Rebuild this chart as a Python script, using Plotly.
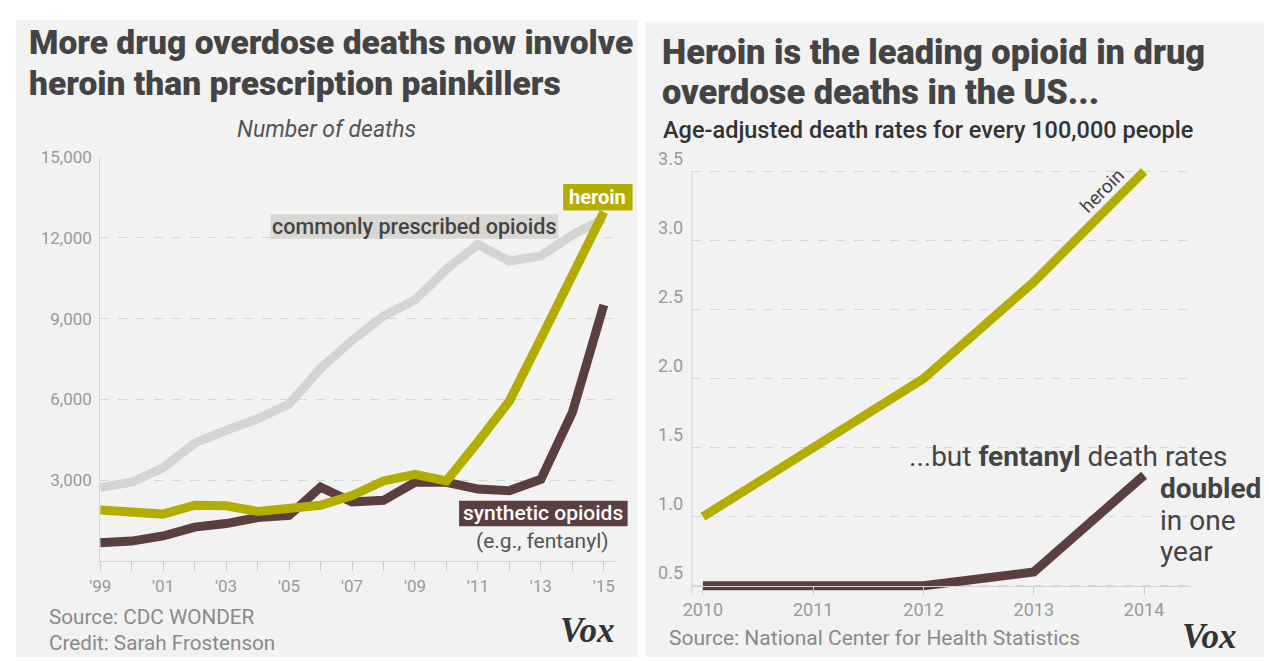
import plotly.graph_objects as go

W, H = 1269, 661

# ---------------- data ----------------
years_left = list(range(1999, 2016))
prescribed = [2740, 2930, 3470, 4380, 4860, 5280, 5830, 7150, 8190, 9090, 9690,
              10830, 11740, 11135, 11320, 12100, 12700]
heroin_left = [1900, 1800, 1750, 2080, 2060, 1850, 1990, 2080, 2440, 2980, 3220,
               2980, 4430, 5940, 8260, 10570, 12950]
synthetic = [690, 750, 940, 1270, 1400, 1620, 1700, 2750, 2200, 2260, 2930,
             2930, 2680, 2620, 3040, 5520, 9500]
left_ytick_vals = [3000, 6000, 9000, 12000, 15000]
left_ytick_text = ["3,000", "6,000", "9,000", "12,000", "15,000"]
left_xtick_text = ["'99", "", "'01", "", "'03", "", "'05", "", "'07", "", "'09", "",
                   "'11", "", "'13", "", "'15"]

years_right = [2010, 2011, 2012, 2013, 2014]
heroin_rate = [1.0, 1.5, 2.0, 2.7, 3.5]
fentanyl_rate = [0.5, 0.5, 0.5, 0.6, 1.3]
right_ytick_vals = [0.5, 1.0, 1.5, 2.0, 2.5, 3.0, 3.5]
right_ytick_text = ["0.5", "1.0", "1.5", "2.0", "2.5", "3.0", "3.5"]
right_xtick_text = ["2010", "2011", "2012", "2013", "2014"]

# ---------------- styles ----------------
C_HEROIN = "#b3ad00"
C_SYN = "#5b3f40"
C_PRESC = "#d5d4d0"
C_TEXT = "#444444"
C_TICK = "#9a9a9a"
C_SRC = "#8a8a8a"
C_GRID = "#d6d6d6"
C_PANEL = "#f2f2f2"
FONT = "Roboto"


def px(x):
    return x / W


def py(y):
    return 1 - y / H


fig = go.Figure()

fig.add_trace(go.Scatter(x=years_left, y=prescribed, mode="lines",
                         line=dict(color=C_PRESC, width=9), xaxis="x", yaxis="y",
                         hoverinfo="skip"))
fig.add_trace(go.Scatter(x=years_left, y=synthetic, mode="lines",
                         line=dict(color=C_SYN, width=9), xaxis="x", yaxis="y",
                         hoverinfo="skip"))
fig.add_trace(go.Scatter(x=years_left, y=heroin_left, mode="lines",
                         line=dict(color=C_HEROIN, width=9), xaxis="x", yaxis="y",
                         hoverinfo="skip"))

fig.add_trace(go.Scatter(x=years_right, y=fentanyl_rate, mode="lines",
                         line=dict(color=C_SYN, width=9), xaxis="x2", yaxis="y2",
                         hoverinfo="skip"))
fig.add_trace(go.Scatter(x=years_right, y=heroin_rate, mode="lines",
                         line=dict(color=C_HEROIN, width=9), xaxis="x2", yaxis="y2",
                         hoverinfo="skip"))

# left axes geometry
lx0, lx1 = 90, 610
ppy = 31.75
l_range_x = [1999, 1999 + (lx1 - lx0) / ppy]
# right axes geometry
rx0, rx1 = 687, 1190
r_ppy = 111.25
r_x_start = 2010 - (698 - rx0) / r_ppy
r_range_x = [r_x_start, 2014 + (rx1 - 1143) / r_ppy]
r_unit = (584 - 160) / 3.0
r_bot_px = 592.5
r_top_px = 151.5
r_range_y = [0.5 - (r_bot_px - 584) / r_unit, 3.5 + (160 - r_top_px) / r_unit]

tickfont = dict(family=FONT, size=17, color=C_TICK)

fig.update_layout(
    width=W, height=H,
    margin=dict(l=0, r=0, t=0, b=0),
    paper_bgcolor="white",
    plot_bgcolor="rgba(0,0,0,0)",
    showlegend=False,
    xaxis=dict(domain=[px(lx0), px(lx1)], range=l_range_x, anchor="y",
               tickvals=years_left, ticktext=left_xtick_text,
               ticks="outside", ticklen=9, tickcolor="#cccccc", tickwidth=1,
               showline=True, linecolor="#d4d4d4", linewidth=1,
               showgrid=False, zeroline=False, tickfont=tickfont,
               fixedrange=True),
    yaxis=dict(domain=[py(559), py(145)], range=[0, 15000], anchor="x",
               tickvals=left_ytick_vals, ticktext=left_ytick_text,
               ticks="", showline=True, linecolor="#d4d4d4", linewidth=1,
               showgrid=True, gridcolor=C_GRID, griddash="dash", gridwidth=1,
               zeroline=False, tickfont=tickfont, ticklabelstandoff=4,
               fixedrange=True),
    xaxis2=dict(domain=[px(rx0), px(rx1)], range=r_range_x, anchor="free",
                position=py(584),
                tickvals=years_right, ticktext=right_xtick_text,
                ticks="outside", ticklen=8, tickcolor="#cccccc",
                showline=True, linecolor="#d4d4d4", linewidth=1,
                showgrid=False, zeroline=False,
                tickfont=dict(family=FONT, size=18, color=C_TICK),
                fixedrange=True),
    yaxis2=dict(domain=[py(r_bot_px), py(r_top_px)], range=r_range_y, anchor="x2",
                tickvals=right_ytick_vals, ticktext=right_ytick_text,
                ticks="", showline=False,
                showgrid=True, gridcolor=C_GRID, griddash="dash", gridwidth=1,
                zeroline=False, tickfont=dict(family=FONT, size=18, color=C_TICK),
                ticklabelposition="outside top",
                ticklabelstandoff=8, fixedrange=True),
)

shapes = []
# panels
shapes.append(dict(type="rect", xref="paper", yref="paper", x0=px(5), x1=px(632),
                   y0=py(657), y1=py(5), fillcolor=C_PANEL, line=dict(width=0),
                   layer="below"))
shapes.append(dict(type="rect", xref="paper", yref="paper", x0=px(640), x1=px(1264),
                   y0=py(657), y1=py(7), fillcolor=C_PANEL, line=dict(width=0),
                   layer="below"))
# right vertical axis line
shapes.append(dict(type="line", xref="paper", yref="paper", x0=px(rx0), x1=px(rx0),
                   y0=py(593), y1=py(160), line=dict(color="#d4d4d4", width=1),
                   layer="below"))
# label boxes
shapes.append(dict(type="rect", xref="paper", yref="paper", x0=px(557), x1=px(627),
                   y0=py(200), y1=py(173), fillcolor=C_HEROIN, line=dict(width=0)))
shapes.append(dict(type="rect", xref="paper", yref="paper", x0=px(262), x1=px(552),
                   y0=py(229), y1=py(204), fillcolor="#d8d7d3", line=dict(width=0)))
shapes.append(dict(type="rect", xref="paper", yref="paper", x0=px(452), x1=px(622),
                   y0=py(523), y1=py(497), fillcolor=C_SYN, line=dict(width=0)))
fig.update_layout(shapes=shapes)


def ann(text, x, y, size, color=C_TEXT, xanchor="left", weight="normal",
        style="normal", family=FONT, angle=0):
    fig.add_annotation(text=text, x=px(x), y=py(y), xref="paper", yref="paper",
                       xanchor=xanchor, yanchor="middle", showarrow=False,
                       textangle=angle,
                       font=dict(family=family, size=size, color=color,
                                 weight=weight, style=style))


# left panel texts
ann("More drug overdose deaths now involve", 16, 28, 33.6, weight=900)
ann("heroin than prescription painkillers", 16, 70, 33.6, weight=900)
ann("Number of deaths", 318, 117, 23, color="#555555", xanchor="center", style="italic")
ann("heroin", 592, 186.5, 20, color="white", xanchor="center", weight="bold")
ann("commonly prescribed opioids", 407, 216.5, 21.5, xanchor="center", weight=500)
ann("synthetic opioids", 537, 510, 21, color="white", xanchor="center", weight=500)
ann("(e.g., fentanyl)", 536, 538, 21, color="#555555", xanchor="center")
ann("Source: CDC WONDER", 36, 616, 20.7, color=C_SRC)
ann("Credit: Sarah Frostenson", 36, 643, 20.7, color=C_SRC)
ann("Vox", 581, 630, 35, color="#333333", xanchor="center", weight="bold",
    style="italic", family="Liberation Serif")

# right panel texts
ann("Heroin is the leading opioid in drug", 655, 38, 34.4, weight=900)
ann("overdose deaths in the US...", 655, 79, 34.4, weight=900)
ann("Age-adjusted death rates for every 100,000 people", 656, 118, 23.5,
    color="#333333", weight=500)
ann("heroin", 1101, 180, 19, color=C_TEXT, xanchor="center", angle=-45)
ann("...but <b>fentanyl</b> death rates", 904, 452, 28, color=C_TEXT)
ann("<b>doubled</b>", 1157, 484, 28, color=C_TEXT)
ann("in one", 1157, 517, 28, color=C_TEXT)
ann("year", 1157, 549, 28, color=C_TEXT)
ann("Source: National Center for Health Statistics", 662, 637, 21, color=C_SRC)
ann("Vox", 1208, 636, 35, color="#333333", xanchor="center", weight="bold",
    style="italic", family="Liberation Serif")

fig.write_html("out.html")
